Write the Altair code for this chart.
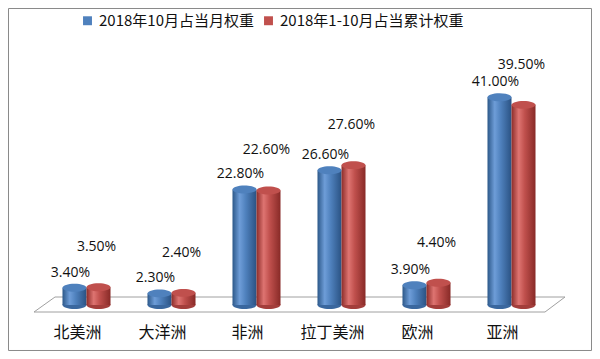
import altair as alt
import pandas as pd

categories = ["北美洲", "大洋洲", "非洲", "拉丁美洲", "欧洲", "亚洲"]
series = ["2018年10月占当月权重", "2018年1-10月占当累计权重"]
month_share = [3.40, 2.30, 22.80, 26.60, 3.90, 41.00]
ytd_share = [3.50, 2.40, 22.60, 27.60, 4.40, 39.50]

rows = []
for c, m, v in zip(categories, month_share, ytd_share):
    rows.append({"洲": c, "series": series[0], "value": m})
    rows.append({"洲": c, "series": series[1], "value": v})
df = pd.DataFrame(rows)
df["label"] = df["value"].map(lambda v: f"{v:.2f}%")

PLOT_W, PLOT_H = 510, 228
ELLIPSE = ("M -1 0 C -1 -0.1823 -0.5523 -0.33 0 -0.33 C 0.5523 -0.33 1 -0.1823 1 0 "
           "C 1 0.1823 0.5523 0.33 0 0.33 C -0.5523 0.33 -1 0.1823 -1 0 Z")
FLOOR = "M -0.8158 -0.025 L 0.8842 -0.025 L 0.8175 0.025 L -0.8858 0.025 Z"
FRAME = "M -1 -0.5866 L 1 -0.5866 L 1 0.5866 L -1 0.5866 Z"

x_enc = alt.X(
    "洲:N", sort=categories,
    scale=alt.Scale(paddingInner=0, paddingOuter=0),
    axis=alt.Axis(title=None, labelAngle=0, domain=False, ticks=False, grid=False,
                  labelFontSize=16, labelFont="Noto Sans CJK SC", labelColor="#111",
                  labelPadding=19, labelOffset=-9),
)
xo_enc = alt.XOffset("series:N", sort=series, scale=alt.Scale(paddingInner=0, paddingOuter=0.77))
y_enc = alt.Y("value:Q", scale=alt.Scale(domain=[0, 45]), axis=None)
y0_enc = alt.Y("zero:Q", scale=alt.Scale(domain=[0, 45]), axis=None)
color_scale = alt.Scale(domain=series, range=["#4F81BD", "#C0504D"])

base = alt.Chart(df)
blue_df = base.transform_filter(alt.datum.series == series[0])
red_df = base.transform_filter(alt.datum.series == series[1])
single = base.transform_filter(
    (alt.datum.series == series[0]) & (alt.datum["洲"] == categories[0]))


def grad(c0, c1, c2, c3):
    return {"gradient": "linear", "x1": 0, "x2": 1, "y1": 0, "y2": 0,
            "stops": [{"offset": 0, "color": c0}, {"offset": 0.3, "color": c1},
                      {"offset": 0.55, "color": c2}, {"offset": 1, "color": c3}]}


blue_grad = grad("#2C5889", "#6E9DD8", "#4F81BD", "#2A5283")
red_grad = grad("#8C2C29", "#DE7471", "#C0504D", "#882A27")

frame = single.mark_point(shape=FRAME, size=339889, filled=False,
                          stroke="#8a8a8a", strokeWidth=1, opacity=1).encode(
    x=alt.value(256), y=alt.value(102.5))
floor = single.mark_point(shape=FLOOR, size=360000, filled=True, fill="#ffffff",
                          stroke="#a0a0a0", strokeWidth=1, opacity=1).encode(
    x=alt.value(255.75), y=alt.value(227.5))

bottom_blue = blue_df.transform_calculate(zero="0").mark_point(
    shape=ELLIPSE, size=576, filled=True, opacity=1, color="#3A679E").encode(
    x=x_enc, xOffset=xo_enc, y=y0_enc)
bottom_red = red_df.transform_calculate(zero="0").mark_point(
    shape=ELLIPSE, size=576, filled=True, opacity=1, color="#A33E3B").encode(
    x=x_enc, xOffset=xo_enc, y=y0_enc)

bars_blue = blue_df.mark_bar(color=blue_grad).encode(x=x_enc, xOffset=xo_enc, y=y_enc)
bars_red = red_df.mark_bar(color=red_grad).encode(x=x_enc, xOffset=xo_enc, y=y_enc)

tops = base.mark_point(shape=ELLIPSE, size=576, filled=True, opacity=1).encode(
    x=x_enc, xOffset=xo_enc, y=y_enc,
    color=alt.Color("series:N", scale=color_scale, title=None,
                    legend=alt.Legend(orient="none", legendX=36, legendY=-64,
                                      direction="horizontal", symbolType="square",
                                      symbolSize=80, symbolStrokeWidth=0,
                                      labelFontSize=15, labelFont="Noto Sans CJK SC",
                                      labelColor="#111", columnPadding=7, labelLimit=0,
                                      symbolOpacity=1)))

txt_style = dict(font="Open Sans", fontSize=14, color="#111", baseline="middle")
labels_blue = blue_df.mark_text(dx=-4, dy=-15, **txt_style).encode(
    x=x_enc, xOffset=xo_enc, y=y_enc, text="label:N")
labels_red = red_df.mark_text(dx=-2, dy=-40, **txt_style).encode(
    x=x_enc, xOffset=xo_enc, y=y_enc, text="label:N")

chart = alt.layer(frame, floor, bottom_blue, bottom_red, bars_blue, bars_red, tops,
                  labels_blue, labels_red).properties(
    width=PLOT_W, height=PLOT_H,
    autosize=alt.AutoSizeParams(type="none"),
    padding={"left": 36, "top": 69, "right": 38, "bottom": 46},
    background="white",
).configure_view(stroke=None)

chart.save("out.html", embed_options={"renderer": "svg", "actions": False})
